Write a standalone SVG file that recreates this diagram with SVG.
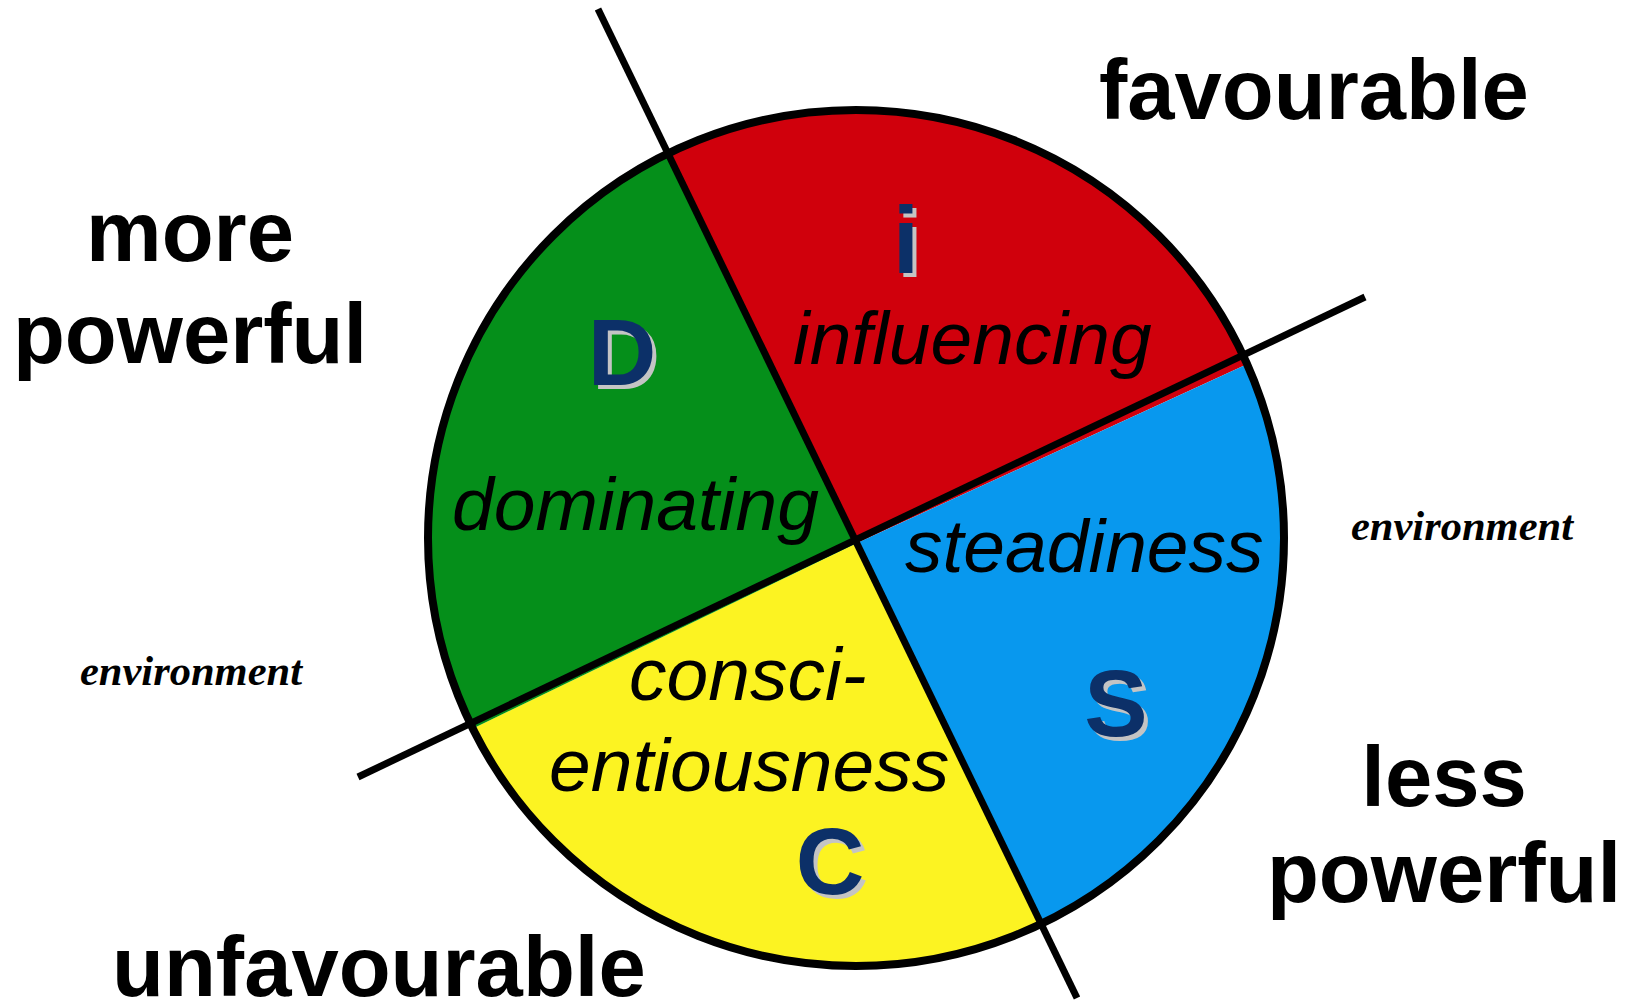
<svg xmlns="http://www.w3.org/2000/svg" width="1625" height="1004" viewBox="0 0 1625 1004">
<style>
.big{font-family:"Liberation Sans",Arial,sans-serif;font-weight:bold;font-size:85px;fill:#000}
.env{font-family:"Liberation Serif","Times New Roman",serif;font-weight:bold;font-style:italic;font-size:42.5px;fill:#000}
.lbl{font-family:"Liberation Sans",Arial,sans-serif;font-style:italic;font-size:75px;fill:#000}
.let{font-family:"Liberation Sans",Arial,sans-serif;font-weight:bold;font-size:95px;text-anchor:middle}
.sh{fill:#c4c4c4}
.fg{fill:#0c3068}
.ax{stroke:#000;stroke-width:7;fill:none}
</style>
<defs>
<clipPath id="circ"><circle cx="856" cy="538" r="428"/></clipPath>
</defs>
<rect width="1625" height="1004" fill="#fff"/>
<g id="wheel">
<g clip-path="url(#circ)">
<polygon id="sector-i" points="857,543 593,-1 1420,-1 1420,285" fill="#d0000c"/>
<polygon id="sector-s" points="857,543 1420,285 1420,1079 1117,1079" fill="#0898ee"/>
<polygon id="sector-c" points="857,543 1117,1079 300,1079 300,812" fill="#fcf322"/>
<polygon id="sector-d" points="857,543 300,812 300,-1 593,-1" fill="#058f1a"/>
</g>
<circle cx="856" cy="538" r="428" fill="none" stroke="#000" stroke-width="8"/>
</g>
<g id="connectors">
<line class="ax" x1="598" y1="9" x2="1077" y2="998"/>
<line class="ax" x1="358" y1="777" x2="1365" y2="297"/>
</g>
<g id="node-D">
<text class="let sh" x="626" y="389">D</text>
<text class="let fg" x="622" y="385">D</text>
<text class="lbl" x="452" y="530">dominating</text>
</g>
<g id="node-i">
<text class="let sh" x="910" y="277">i</text>
<text class="let fg" x="906" y="273">i</text>
<text class="lbl" x="793" y="364">influencing</text>
</g>
<g id="node-S">
<text class="let sh" x="1120" y="740">S</text>
<text class="let fg" x="1116" y="736">S</text>
<text class="lbl" x="905" y="572">steadiness</text>
</g>
<g id="node-C">
<text class="let sh" x="834" y="898">C</text>
<text class="let fg" x="830" y="894">C</text>
<text class="lbl" x="629" y="700">consci-</text>
<text class="lbl" x="549" y="791">entiousness</text>
</g>
<g id="labels">
<text class="big" x="1099" y="119">favourable</text>
<text class="big" x="190" y="261" text-anchor="middle">more</text>
<text class="big" x="190" y="363" text-anchor="middle">powerful</text>
<text class="big" x="1444" y="806" text-anchor="middle">less</text>
<text class="big" x="1444" y="902" text-anchor="middle">powerful</text>
<text class="big" x="112" y="996">unfavourable</text>
<text class="env" x="1351" y="540">environment</text>
<text class="env" x="80" y="685">environment</text>
</g>
</svg>
